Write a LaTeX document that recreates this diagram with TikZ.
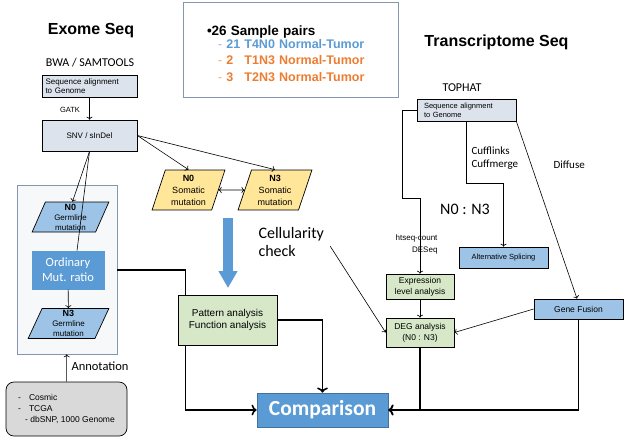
\documentclass[tikz,border=0pt]{standalone}
\usepackage{fontspec}
\setmainfont{Liberation Sans}
\newfontfamily\calibri{Carlito}
\usetikzlibrary{arrows,arrows.meta,positioning,shapes.geometric}

\definecolor{seqgray}{RGB}{220,227,237}
\definecolor{somyellow}{RGB}{255,230,153}
\definecolor{germblue}{RGB}{157,195,230}
\definecolor{midblue}{RGB}{91,155,213}
\definecolor{darkblue}{RGB}{65,113,156}
\definecolor{paleg}{RGB}{214,232,200}
\definecolor{dbgray}{RGB}{217,217,217}
\definecolor{frameblue}{RGB}{132,151,176}
\definecolor{pairorange}{RGB}{237,125,49}

\tikzset{
  box/.style={draw, line width=0.7pt, inner sep=0pt, align=center},
  seqbox/.style={box, fill=seqgray, text width=#1, align=left,
    font=\fontsize{8}{9.5}\selectfont},
  snvbox/.style={box, fill=seqgray, font=\fontsize{8}{9.5}\selectfont},
  para/.style={box, trapezium, trapezium left angle=72, trapezium right angle=108,
    trapezium stretches=true},
  somatic/.style={para, fill=somyellow, minimum width=73pt, minimum height=40pt,
    font=\fontsize{9}{12}\selectfont},
  germline/.style={para, fill=germblue, minimum height=30pt,
    font=\fontsize{8}{10}\selectfont},
  greenbox/.style={box, fill=paleg},
  bluebox/.style={box, fill=germblue, font=\fontsize{7.5}{9}\selectfont},
  title/.style={font=\bfseries\fontsize{16}{18}\selectfont},
  tool/.style={font=\calibri\fontsize{12}{14}\selectfont},
  thin/.style={line width=0.6pt},
  thick line/.style={line width=1.6pt}
}

\begin{document}
\begin{tikzpicture}[x=1pt,y=-1pt]
\path[use as bounding box, fill=white] (0,0) rectangle (628,437);

\node[title] (exome) at (91,31) {Exome Seq};
\node[tool] (bwa) at (90,63) {BWA / SAMTOOLS};
\node[seqbox=88pt, minimum width=95pt, minimum height=22pt] (seqL) at (89.5,86) {Sequence alignment\\to Genome};
\node[font=\fontsize{7.5}{9}\selectfont] (gatk) at (70,110) {GATK};
\node[snvbox, minimum width=95pt, minimum height=31pt] (snv) at (89.5,135.5) {SNV / sInDel};

\node[draw=frameblue, line width=0.7pt, fill=seqgray!25, minimum width=100pt, minimum height=169pt] (germbox) at (67,269.5) {};
\node[germline, minimum width=77pt] (germN0) at (70.5,217) {{\bfseries\fontsize{9}{10}\selectfont N0}\\Germline\\mutation};
\node[box, fill=midblue, draw=midblue, minimum width=72pt, minimum height=38pt, text=white,
  font=\calibri\fontsize{12.5}{15}\selectfont] (ord) at (68,270) {Ordinary\\Mut. ratio};
\node[germline, minimum width=81pt] (germN3) at (68.5,323.5) {{\bfseries\fontsize{9}{10}\selectfont N3}\\Germline\\mutation};
\node[font=\calibri\fontsize{12.5}{14}\selectfont, anchor=west] (annot) at (68,366) {Annotation};
\node[box, fill=dbgray, rounded corners=8pt, minimum width=121pt, minimum height=54pt, align=left,
  font=\fontsize{8.5}{11}\selectfont] (dbbox) at (66.5,409)
  {\makebox[74pt][l]{-\hspace{8pt}Cosmic}\\-\hspace{8pt}TCGA\\\hspace*{7pt}- dbSNP, 1000 Genome};

\node[somatic] (somN0) at (188.5,190) {{\bfseries N0}\\Somatic\\mutation};
\node[somatic, minimum width=74pt] (somN3) at (275,190) {{\bfseries N3}\\Somatic\\mutation};

\node[draw=frameblue, line width=0.8pt, minimum width=215pt, minimum height=95pt, align=left,
  inner xsep=24pt, text width=167pt, font=\fontsize{12.5}{16.5}\selectfont] (pairs) at (290.5,49.5)
  {\rule{0pt}{18pt}\bfseries\fontsize{13.5}{16.5}\selectfont •26 Sample pairs\\[-4pt]
   \fontsize{12.5}{16.5}\selectfont
   \hspace*{11pt}\textcolor{midblue!70}{\mdseries -} \textcolor{midblue}{21 T4N0 Normal-Tumor}\\
   \hspace*{11pt}\textcolor{pairorange!70}{\mdseries -} \textcolor{pairorange}{2\hspace{7pt} T1N3 Normal-Tumor}\\
   \hspace*{11pt}\textcolor{pairorange!70}{\mdseries -} \textcolor{pairorange}{3\hspace{7pt} T2N3 Normal-Tumor}};

\coordinate (fatA) at (228,218);
\coordinate (fatB) at (228,288);
\node[font=\calibri\fontsize{16}{18}\selectfont, anchor=west, align=left] (cell) at (255,242) {Cellularity\\check};
\node[greenbox, minimum width=99pt, minimum height=50pt, font=\fontsize{10}{12.5}\selectfont] (pattern) at (227.5,320) {Pattern analysis\\Function analysis};
\node[box, fill=midblue, draw=darkblue, minimum width=131pt, minimum height=34pt, text=white,
  font=\calibri\bfseries\fontsize{21.5}{23}\selectfont] (comparison) at (322.5,410) {Comparison};

\node[title] (trans) at (496.5,42) {Transcriptome Seq};
\node[tool] (tophat) at (462,88) {TOPHAT};
\node[seqbox=85pt, minimum width=99pt, minimum height=22pt, font=\fontsize{7.5}{9}\selectfont] (seqR) at (466.5,110) {Sequence alignment\\to Genome};
\node[font=\calibri\fontsize{11}{13}\selectfont, anchor=west, align=left] (cuff) at (468,158.5) {Cufflinks\\Cuffmerge};
\node[font=\calibri\fontsize{11}{12}\selectfont, anchor=west] (diffuse) at (550,165) {Diffuse};
\node[font=\calibri\fontsize{16}{18}\selectfont] (n0n3) at (465,209) {N0 : N3};
\node[font=\fontsize{8}{12}\selectfont, anchor=east, align=right] (htseq) at (441,244) {htseq-count\\DESeq};
\node[bluebox, minimum width=89pt, minimum height=21pt] (altspl) at (503.5,257.5) {Alternative Splicing};
\node[greenbox, minimum width=68pt, minimum height=25pt, font=\fontsize{8.5}{11}\selectfont] (expr) at (420,286.5) {Expression\\level analysis};
\node[greenbox, minimum width=68pt, minimum height=29pt, font=\fontsize{8.5}{11}\selectfont] (deg) at (420,332.5) {DEG analysis\\(N0 : N3)};
\node[bluebox, minimum width=89pt, minimum height=20pt, font=\fontsize{8.5}{10}\selectfont] (fusion) at (578.5,309) {Gene Fusion};

\draw[thin, ->] (seqL) -- (snv);
\draw[thin, ->] (snv.east) -- (somN0.north);
\draw[thin, ->] (snv.east) -- (somN3.north);
\draw[thin, <->] (somN0.east) -- (somN3.west);
\draw[thin, ->] (snv.south) -- ([xshift=2pt]germN0.north);
\draw[thin] (snv.south) -- ([xshift=9pt]ord.north);
\draw[thin, ->] (ord) -- (germN3);
\draw[thin, ->] (dbbox) -- (germbox);
\draw[line width=10pt, midblue, -{Triangle[width=18pt,length=17pt]}] (fatA) -- (fatB);

\draw[thick line] (ord -| germbox.east) -| ([xshift=8pt]pattern.north west);
\draw[thick line, ->] ([xshift=8pt]pattern.south west) |- (comparison.west);
\draw[thick line, ->] (pattern.east) -| (comparison.north);
\draw[thick line, ->] (deg.south) |- (comparison.east);
\draw[thick line, ->] (fusion.south) |- (comparison.east);

\draw[thin, ->] (seqR.west) -| (402,198) -| (expr.north);
\draw[thin, ->] (seqR.south) |- (503.5,183) -- (altspl.north);
\draw[thin, ->] (seqR.south east) -- ([xshift=-1.5pt]fusion.north);
\draw[thin, ->] (expr) -- (deg);
\draw[thin, ->] (fusion.west) -- (deg.east);
\draw[thin, ->, shorten <=5pt] (cell.east) -- (deg.west);
\end{tikzpicture}
\end{document}
